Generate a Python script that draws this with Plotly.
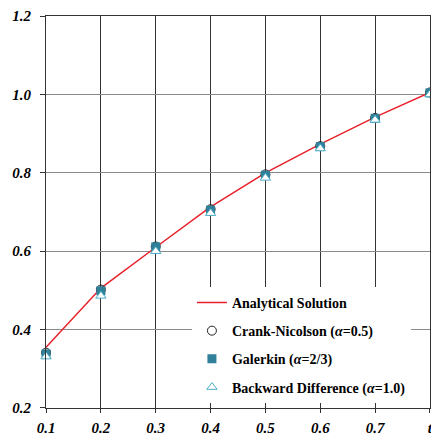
import plotly.graph_objects as go

t = [0.1, 0.2, 0.3, 0.4, 0.5, 0.6, 0.7, 0.8]
analytical = [0.355, 0.506, 0.610, 0.713, 0.800, 0.873, 0.942, 1.005]
crank_nicolson = [0.341, 0.502, 0.612, 0.707, 0.796, 0.868, 0.940, 1.005]
galerkin = [0.338, 0.499, 0.611, 0.705, 0.794, 0.867, 0.939, 1.004]
backward = [0.331, 0.486, 0.600, 0.697, 0.787, 0.862, 0.935, 1.000]

x_ticks = [0.1, 0.2, 0.3, 0.4, 0.5, 0.6, 0.7, 0.8]
x_labels = ['0.1', '0.2', '0.3', '0.4', '0.5', '0.6', '0.7', 't']
y_ticks = [0.2, 0.4, 0.6, 0.8, 1.0, 1.2]
y_labels = ['0.2', '0.4', '0.6', '0.8', '1.0', '1.2']

serif = 'Liberation Serif'
tick_font = dict(family=serif, size=15, color='black', weight='bold', style='italic')

fig = go.Figure()
fig.add_trace(go.Scatter(
    x=t, y=analytical, mode='lines', name='Analytical Solution',
    line=dict(color='#e8202a', width=1.5), legendgroup='a', cliponaxis=False))
fig.add_trace(go.Scatter(
    x=t, y=crank_nicolson, mode='markers', name='Crank-Nicolson (<i>α</i>=0.5)',
    marker=dict(symbol='circle-open', size=9, color='#222222', line=dict(width=1)),
    legendgroup='b', cliponaxis=False))
fig.add_trace(go.Scatter(
    x=t, y=galerkin, mode='markers', name='Galerkin (<i>α</i>=2/3)',
    marker=dict(symbol='square', size=9, color='#31809a', line=dict(width=0)),
    legendgroup='c', cliponaxis=False))
fig.add_trace(go.Scatter(
    x=t, y=backward, mode='markers', name='Backward Difference (<i>α</i>=1.0)',
    marker=dict(symbol='triangle-up', size=9, color='white',
                line=dict(color='#4bacc6', width=1)),
    legendgroup='d', cliponaxis=False))

# page body has an 8px margin, so the figure is sized to fit inside the window
fig.update_layout(
    width=431, height=432,
    margin=dict(l=38, r=9, t=8, b=32),
    paper_bgcolor='white', plot_bgcolor='white',
    showlegend=True,
    legend=dict(
        x=0.38, y=0.309, xanchor='left', yanchor='top',
        bgcolor='white', borderwidth=0,
        traceorder='grouped', tracegroupgap=7,
        itemwidth=30,
        font=dict(family=serif, size=14, color='black', weight='bold'),
    ),
    xaxis=dict(
        range=[0.0999, 0.8001], tickvals=x_ticks, ticktext=x_labels,
        showgrid=True, gridcolor='#333333', gridwidth=1,
        showline=True, linecolor='#333333', linewidth=1, mirror=True,
        ticks='outside', ticklen=4, tickcolor='#333333',
        zeroline=False, tickfont=tick_font, automargin=False,
        ticklabelstandoff=2,
    ),
    yaxis=dict(
        range=[0.1999, 1.2001], tickvals=y_ticks, ticktext=y_labels,
        showgrid=True, gridcolor='#8a8a8a', gridwidth=1,
        showline=True, linecolor='#333333', linewidth=1, mirror=True,
        ticks='outside', ticklen=5, tickcolor='#333333',
        zeroline=False, tickfont=tick_font, automargin=False,
        ticklabelstandoff=6,
    ),
)

fig.write_html("out.html")
